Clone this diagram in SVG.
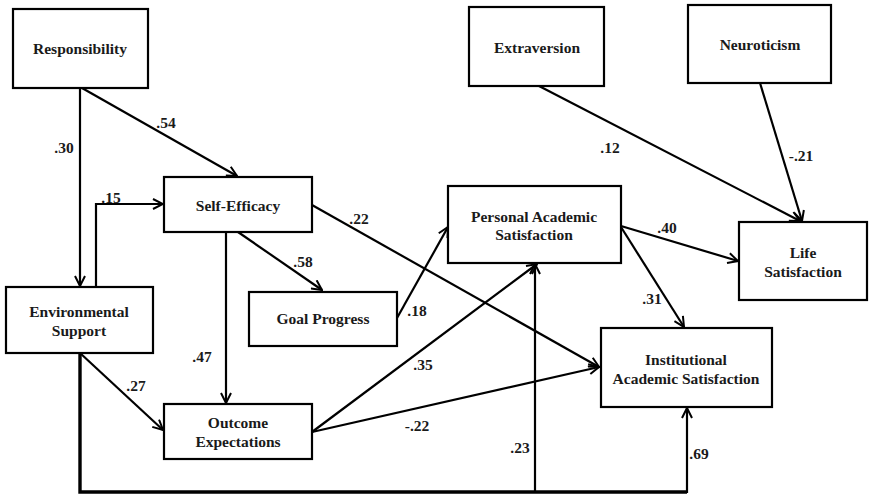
<svg xmlns="http://www.w3.org/2000/svg" width="870" height="496" viewBox="0 0 870 496">
  <style>
    .lbl { font-family: "Liberation Serif", "DejaVu Serif", serif; font-weight: bold; font-size: 15.5px; fill: #1a1a1a; text-anchor: middle; }
    .coef { font-family: "Liberation Serif", "DejaVu Serif", serif; font-weight: bold; font-size: 15.5px; fill: #1a1a1a; text-anchor: middle; }
    .box { fill: #ffffff; stroke: #000000; stroke-width: 2.2; }
    .edge { fill: none; stroke: #000000; stroke-width: 2.2; marker-end: url(#arrow); }
    .edge-heavy { fill: none; stroke: #000000; stroke-width: 3.4; }
  </style>
  <defs>
    <marker id="arrow" viewBox="0 0 12 12" refX="11" refY="6" markerWidth="12" markerHeight="12" markerUnits="userSpaceOnUse" orient="auto">
      <path d="M1,1 L11,6 L1,11" fill="none" stroke="#000000" stroke-width="2"/>
    </marker>
  </defs>
  <rect width="870" height="496" fill="#ffffff"/>

  <!-- paths between constructs -->
  <g id="connectors">
    <line class="edge" x1="80" y1="88" x2="80" y2="286"/>
    <line class="edge" x1="82" y1="88" x2="237" y2="176"/>
    <polyline class="edge" points="96,287 96,204 163,204"/>
    <line class="edge" x1="226" y1="232" x2="226" y2="403"/>
    <line class="edge" x1="238" y1="232" x2="322" y2="290"/>
    <line class="edge" x1="80" y1="353" x2="163" y2="430"/>
    <line class="edge" x1="312" y1="205" x2="599" y2="367"/>
    <line class="edge" x1="397" y1="318" x2="448" y2="227"/>
    <line class="edge" x1="312" y1="432" x2="537" y2="264"/>
    <line class="edge" x1="312" y1="432" x2="599" y2="367"/>
    <!-- environmental support feed along the bottom edge -->
    <polyline class="edge-heavy" points="80,353 80,492 687,492"/>
    <line class="edge" x1="687" y1="493" x2="687" y2="408"/>
    <line class="edge" x1="535" y1="493" x2="535" y2="264"/>
    <line class="edge" x1="621" y1="226" x2="738" y2="261"/>
    <line class="edge" x1="621" y1="227" x2="684" y2="327"/>
    <line class="edge" x1="539" y1="86" x2="800" y2="221"/>
    <line class="edge" x1="760" y1="83" x2="802" y2="221"/>

    <text class="coef" x="166" y="128">.54</text>
    <text class="coef" x="64" y="153">.30</text>
    <text class="coef" x="111" y="203">.15</text>
    <text class="coef" x="202" y="362">.47</text>
    <text class="coef" x="136" y="391">.27</text>
    <text class="coef" x="303" y="267">.58</text>
    <text class="coef" x="359" y="224">.22</text>
    <text class="coef" x="417" y="316">.18</text>
    <text class="coef" x="423" y="370">.35</text>
    <text class="coef" x="417" y="431">-.22</text>
    <text class="coef" x="520" y="453">.23</text>
    <text class="coef" x="667" y="233">.40</text>
    <text class="coef" x="652" y="304">.31</text>
    <text class="coef" x="699" y="459">.69</text>
    <text class="coef" x="610" y="153">.12</text>
    <text class="coef" x="801" y="161">-.21</text>
  </g>

  <g id="responsibility">
    <rect class="box" x="13" y="9" width="135" height="79"/>
    <text class="lbl" x="80" y="54">Responsibility</text>
  </g>
  <g id="extraversion">
    <rect class="box" x="469" y="7" width="135" height="79"/>
    <text class="lbl" x="537" y="53">Extraversion</text>
  </g>
  <g id="neuroticism">
    <rect class="box" x="688" y="5" width="143" height="78"/>
    <text class="lbl" x="760" y="50">Neuroticism</text>
  </g>
  <g id="self-efficacy">
    <rect class="box" x="164" y="177" width="148" height="55"/>
    <text class="lbl" x="238" y="211">Self-Efficacy</text>
  </g>
  <g id="environmental-support">
    <rect class="box" x="6" y="287" width="147" height="66"/>
    <text class="lbl" x="79" y="317">Environmental</text>
    <text class="lbl" x="79" y="336">Support</text>
  </g>
  <g id="goal-progress">
    <rect class="box" x="249" y="292" width="148" height="54"/>
    <text class="lbl" x="323" y="324">Goal Progress</text>
  </g>
  <g id="outcome-expectations">
    <rect class="box" x="164" y="404" width="148" height="55"/>
    <text class="lbl" x="238" y="428">Outcome</text>
    <text class="lbl" x="238" y="447">Expectations</text>
  </g>
  <g id="personal-academic-satisfaction">
    <rect class="box" x="448" y="186" width="173" height="77"/>
    <text class="lbl" x="534" y="222">Personal Academic</text>
    <text class="lbl" x="534" y="240">Satisfaction</text>
  </g>
  <g id="life-satisfaction">
    <rect class="box" x="739" y="222" width="128" height="78"/>
    <text class="lbl" x="803" y="258">Life</text>
    <text class="lbl" x="803" y="277">Satisfaction</text>
  </g>
  <g id="institutional-academic-satisfaction">
    <rect class="box" x="601" y="328" width="171" height="79"/>
    <text class="lbl" x="686" y="365">Institutional</text>
    <text class="lbl" x="686" y="384">Academic Satisfaction</text>
  </g>
</svg>
